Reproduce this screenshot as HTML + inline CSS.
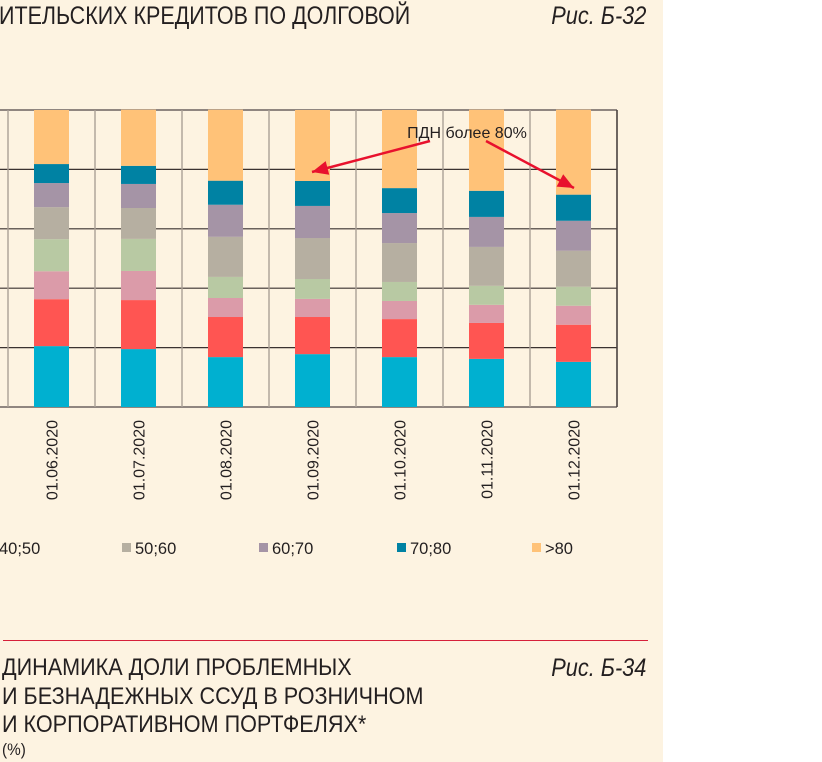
<!DOCTYPE html>
<html><head><meta charset="utf-8"><style>
html,body{margin:0;padding:0;background:#fff;}
body{width:822px;height:762px;position:relative;overflow:hidden;font-family:"Liberation Sans",sans-serif;}
#bg{position:absolute;left:0;top:0;width:663px;height:762px;background:#fdf3e1;}
.t{position:absolute;color:#231f20;white-space:nowrap;transform-origin:0 0;}
.r{transform-origin:100% 0;}
</style></head><body>
<div id="bg"></div>
<div class="t" style="left:-1px;top:2px;font-size:25px;transform:scaleX(0.86);">ИТЕЛЬСКИХ КРЕДИТОВ ПО ДОЛГОВОЙ</div>
<div class="t r" style="right:176px;top:2px;font-size:25px;font-style:italic;transform:scaleX(0.87);">Рис. Б-32</div>
<div style="position:absolute;left:3px;top:640px;width:645px;height:1px;background:#d6203a;"></div>
<div class="t" style="left:2px;top:654px;font-size:24px;line-height:28.5px;transform:scaleX(0.9);">ДИНАМИКА ДОЛИ ПРОБЛЕМНЫХ<br>И БЕЗНАДЕЖНЫХ ССУД В РОЗНИЧНОМ<br>И КОРПОРАТИВНОМ ПОРТФЕЛЯХ*</div>
<div class="t r" style="right:176px;top:654px;font-size:25px;font-style:italic;transform:scaleX(0.87);">Рис. Б-34</div>
<div class="t" style="left:2px;top:740px;font-size:17px;transform:scaleX(0.9);">(%)</div>
<svg id="chart" width="822" height="762" style="position:absolute;left:0;top:0;" xmlns="http://www.w3.org/2000/svg"></svg>
<script>
const categories=["01.06.2020","01.07.2020","01.08.2020","01.09.2020","01.10.2020","01.11.2020","01.12.2020"];
const seriesNames=["<30","30;40","40;50","50;60","60;70","70;80",">80"];
const s1=[20.5,19.5,16.8,17.8,16.8,16.2,15.2];
const s2=[15.8,16.5,13.5,12.5,12.8,12.1,12.5];
const s3=[9.4,9.8,6.4,6.1,6.1,6.1,6.4];
const s4=[10.8,10.8,7.1,6.7,6.4,6.4,6.4];
const s5=[10.8,10.4,13.5,13.8,13.1,13.1,12.1];
const s6=[8.1,8.1,10.8,10.8,10.1,10.1,10.1];
const s7=[6.4,6.1,8.1,8.4,8.4,8.8,8.8];
const s8=[18.2,18.9,23.9,23.9,26.3,27.3,28.6];
const yTicks=[0,20,40,60,80,100];
const colors=["#00b0d0","#ff5552","#db9ba9","#b8c9a3","#b6afa1","#a594a6","#0082a3","#ffc278"];
const series=[s1,s2,s3,s4,s5,s6,s7,s8];
const svg=document.getElementById('chart');
const NS="http://www.w3.org/2000/svg";
const X0=8,X1=617,Y0=407,Y1=110;
const step=(X1-X0)/categories.length;
const xC=i=>X0+step*(i+0.5);
const y=v=>Y0-(v/100)*(Y0-Y1);
function mk(t,a){const e=document.createElementNS(NS,t);for(const k in a)e.setAttribute(k,a[k]);svg.appendChild(e);return e;}
yTicks.forEach(v=>{const l=mk('line',{x1:0,x2:X1,y1:y(v),y2:y(v),stroke:(v===0||v===100)?'#6d6360':'#3a3230','stroke-width':(v===0||v===100)?1.6:1.2});

});
for(let i=0;i<=categories.length;i++){const l=mk('line',{x1:X0+step*i,x2:X0+step*i,y1:Y1,y2:Y0,stroke:i===categories.length?'#4a4240':'#aaa096','stroke-width':i===categories.length?1.6:1.4});

}
categories.forEach((c,i)=>{let acc=0;series.forEach((s,k)=>{const top=acc+s[i];
const r=mk('rect',{x:xC(i)-17.5,y:y(top),width:35,height:y(acc)-y(top),fill:colors[k]});


acc=top;});
const t=mk('text',{x:0,y:0,transform:`translate(${xC(i)+6},${420}) rotate(-90)`,'text-anchor':'end','font-size':16,fill:'#231f20','font-family':'"Liberation Sans",sans-serif'});
t.textContent=c;

});
const at=mk('text',{x:467,y:138,'text-anchor':'middle','font-size':16,fill:'#231f20','font-family':'"Liberation Sans",sans-serif'});
at.textContent='ПДН более 80%';


const mkArrow=(x1,y1,x2,y2,nm)=>{const g=mk('line',{x1,y1,x2,y2,stroke:'#e8112d','stroke-width':2.5});


const a=Math.atan2(y2-y1,x2-x1),L=16,W=7;
const bx=x2-L*Math.cos(a),by=y2-L*Math.sin(a);
const p=mk('polygon',{points:`${x2},${y2} ${bx+W*Math.sin(a)},${by-W*Math.cos(a)} ${bx-W*Math.sin(a)},${by+W*Math.cos(a)}`,fill:'#e8112d'});

};
mkArrow(430,141,312,172,'annotation-arrow-left');
mkArrow(486,141,574,188,'annotation-arrow-right');
const legend=[["40;50",-1,null],["50;60",122,4],["60;70",259,5],["70;80",397,6],[">80",532,7]];
legend.forEach(([lab,x,ci])=>{if(ci!==null){const r=mk('rect',{x:x,y:543,width:9,height:9,fill:colors[ci]});

}
const t=mk('text',{x:ci===null?x:x+13,y:554,'font-size':16.5,fill:'#231f20','font-family':'"Liberation Sans",sans-serif'});
t.textContent=lab;

});
</script>
</body></html>
